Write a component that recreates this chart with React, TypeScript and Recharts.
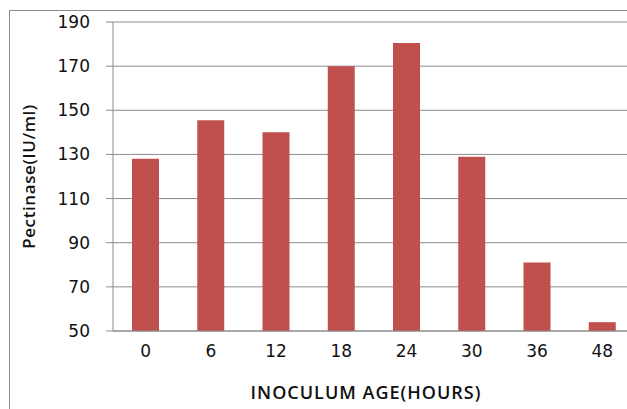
import { BarChart, Bar, XAxis, YAxis, CartesianGrid } from 'recharts';

const ages = ['0', '6', '12', '18', '24', '30', '36', '48'];
const pectinase = [128, 145.5, 140, 170, 180.5, 129, 81, 54];
const yTicks = [50, 70, 90, 110, 130, 150, 170, 190];

const chartData = ages.map((age, i) => ({ age, value: pectinase[i] }));

export default function App() {
  return (
    <div style={{ position: 'fixed', left: 0, top: 0, width: 627, height: 409, overflow: 'hidden', background: '#fff' }}>
      <div
        style={{
          position: 'absolute',
          left: 9,
          top: 10,
          width: 700,
          height: 500,
          border: '1px solid #8c8c8c',
        }}
      />
      <div style={{ position: 'absolute', left: 0, top: 0 }}>
        <BarChart width={640} height={440} data={chartData} margin={{ top: 22, right: 5, left: 0, bottom: 0 }}>
          <CartesianGrid stroke="#8c8c8c" vertical={false} />
          <XAxis
            dataKey="age"
            height={109}
            stroke="#8c8c8c"
            tickLine={false}
            tickSize={0}
            tickMargin={14}
            tick={{ fill: '#111', fontSize: 17, fontFamily: 'DejaVu Sans' }}
            label={{
              value: 'INOCULUM AGE(HOURS)',
              position: 'insideBottom',
              offset: 41,
              dx: -8,
              style: { fill: '#111', fontSize: 18, fontWeight: 600, letterSpacing: 1, fontFamily: 'Open Sans' },
            }}
          />
          <YAxis
            width={113}
            domain={[50, 190]}
            ticks={yTicks}
            interval={0}
            allowDataOverflow
            stroke="#8c8c8c"
            tickSize={7}
            tickMargin={16}
            tick={{ fill: '#111', fontSize: 17, fontFamily: 'DejaVu Sans' }}
            label={{
              value: 'Pectinase(IU/ml)',
              angle: -90,
              position: 'insideLeft',
              offset: 29,
              style: { textAnchor: 'middle', fill: '#111', fontSize: 17, fontWeight: 600, letterSpacing: 0.6, fontFamily: 'Open Sans' },
            }}
          />
          <Bar dataKey="value" fill="#c0504d" barSize={27} isAnimationActive={false} />
        </BarChart>
      </div>
    </div>
  );
}
